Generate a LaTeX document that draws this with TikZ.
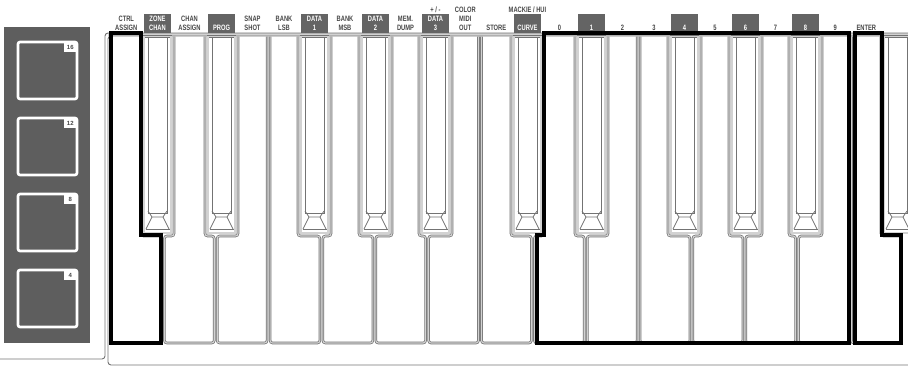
\documentclass[tikz,border=0pt]{standalone}
\usepackage{fontspec}
\setmainfont[FakeStretch=0.74]{Liberation Sans}
\newfontfamily\padfont{Liberation Sans}
\definecolor{kgray}{RGB}{115,115,115}
\definecolor{klight}{RGB}{210,210,210}
\definecolor{boxgray}{RGB}{100,100,100}
\definecolor{panelgray}{RGB}{94,94,94}
\definecolor{labtext}{RGB}{70,70,70}
\tikzset{
  keyline/.style={draw=kgray, line width=0.75, double=klight, double distance=1.1, rounded corners=2.5},
  bkline/.style={draw=kgray, line width=0.8},
  frameline/.style={draw=kgray, line width=0.9, rounded corners=3},
  grp/.style={draw=black, line width=4, line join=miter},
  lab/.style={font=\bfseries\fontsize{7.8}{8}\selectfont, text=labtext, anchor=base, inner sep=0},
  blab/.style={lab, text=white},
  lbox/.style={fill=boxgray, draw=none},
  padline/.style={draw=white, line width=2.6, rounded corners=2},
  padnum/.style={font=\padfont\bfseries\fontsize{6}{6}\selectfont, text=labtext, inner sep=0},
}
\newcommand\wkR[3]{\draw[keyline] (#1,36.5) -- (#1,343) -- (#2,343) -- (#2,236) -- (#3,236) -- (#3,36.5);}
\newcommand\wkL[3]{\draw[keyline] (#3,36.5) -- (#3,236) -- (#1,236) -- (#1,343) -- (#2,343) -- (#2,36.5);}
\newcommand\wkB[4]{\draw[keyline] (#3,36.5) -- (#3,236) -- (#1,236) -- (#1,343) -- (#2,343) -- (#2,236) -- (#4,236) -- (#4,36.5);}
\newcommand\bkey[1]{%
  \draw[keyline, fill=white, rounded corners=0] (#1,36.5) rectangle (#1+27,233);
  \draw[bkline] (#1+4,37) -- (#1+4,213) -- (#1+23,213) -- (#1+23,37);
  \draw[bkline] (#1+4,211) -- (#1+8,217) -- (#1+19,217) -- (#1+23,211);
  \draw[bkline] (#1+8,217) -- (#1+2,229) (#1+19,217) -- (#1+25,229);
  \draw[bkline] (#1+1.5,229) -- (#1+25.5,229);
}
\newcommand\lbx[1]{\fill[lbox] (#1,14) rectangle (#1+27,33);}
\newcommand\pad[2]{%
  \draw[padline] (18,#1+1) rectangle (77,#1+58);
  \fill[white] (63.5,#1+1) rectangle (77,#1+11);
  \node[padnum] (pn#2) at (70.3,#1+6.2) {#2};
}
\begin{document}
\begin{tikzpicture}[x=1pt,y=-1pt]
\useasboundingbox (0,0) rectangle (908,367);
\clip (0,0) rectangle (908,367);
% pad panel
\fill[panelgray] (4,27) rectangle (90,343);
\pad{41}{16}
\pad{117}{12}
\pad{193}{8}
\pad{269}{4}
% keyboard frame
\fill[klight] (108,33) rectangle (908,36);
\draw[frameline] (908,33) -- (105,33) -- (105,359) -- (0,359);
\draw[frameline] (908,36) -- (108,36) -- (108,365) -- (908,365);
% white keys
\wkR{111.5}{161.4}{141}
\wkB{164.4}{214.2}{174}{205}
\wkL{217.2}{267.1}{238}
\wkR{270.1}{319.9}{298}
\wkB{322.9}{372.8}{331}{359}
\wkB{375.8}{425.6}{392}{419}
\wkL{428.6}{478.5}{452}
\wkR{481.5}{531.4}{511}
\wkB{534.4}{584.2}{544}{575}
\wkL{587.2}{637.1}{608}
\wkR{640.1}{689.9}{668}
\wkB{692.9}{742.8}{701}{729}
\wkB{745.8}{795.6}{762}{789}
\wkL{798.6}{848.5}{822}
\wkR{851.5}{901.4}{881}
% black keys
\foreach \bx in {144,208,301,362,422,514,578,671,732,792,884} {\bkey{\bx}}
% label boxes
\foreach \bx in {144,208,301,362,422,514,578,671,732,792} {\lbx{\bx}}
% white-key labels
\node[lab] (t1a) at (126.3,21) {CTRL};
\node[lab] (t1b) at (126.3,30) {ASSIGN};
\node[lab] (t3a) at (189.5,21) {CHAN};
\node[lab] (t3b) at (189.5,30) {ASSIGN};
\node[lab] (t5a) at (252.5,21) {SNAP};
\node[lab] (t5b) at (252.5,30) {SHOT};
\node[lab] (t6a) at (284,21) {BANK};
\node[lab] (t6b) at (284,30) {LSB};
\node[lab] (t8a) at (345,21) {BANK};
\node[lab] (t8b) at (345,30) {MSB};
\node[lab] (t10a) at (405.5,21) {MEM.};
\node[lab] (t10b) at (405.5,30) {DUMP};
\node[lab] (t12a) at (465.3,12) {COLOR};
\node[lab] (t12b) at (465.3,21) {MIDI};
\node[lab] (t12c) at (465.3,30) {OUT};
\node[lab] (t13) at (496.3,30) {STORE};
\node[lab] (t14top) at (527.5,12) {MACKIE / HUI};
\node[lab] (t15) at (559.5,30) {0};
\node[lab] (t17) at (622.5,30) {2};
\node[lab] (t18) at (654,30) {3};
\node[lab] (t20) at (715,30) {5};
\node[lab] (t22) at (775.5,30) {7};
\node[lab] (t24) at (835.3,30) {9};
\node[lab] (t25) at (866.3,30) {ENTER};
\node[lab] (t11top) at (435.5,12) {+ / -};
% black-key labels
\node[blab] (t2a) at (157.5,21) {ZONE};
\node[blab] (t2b) at (157.5,30) {CHAN};
\node[blab] (t4) at (221.5,30) {PROG};
\node[blab] (t7a) at (314.5,21) {DATA};
\node[blab] (t7b) at (314.5,30) {1};
\node[blab] (t9a) at (375.5,21) {DATA};
\node[blab] (t9b) at (375.5,30) {2};
\node[blab] (t11a) at (435.5,21) {DATA};
\node[blab] (t11b) at (435.5,30) {3};
\node[blab] (t14) at (527.5,30) {CURVE};
\node[blab] (t16) at (591.5,30) {1};
\node[blab] (t19) at (684.5,30) {4};
\node[blab] (t21) at (745.5,30) {6};
\node[blab] (t23) at (805.5,30) {8};
% group outlines
\draw[grp] (111,33) -- (141,33) -- (141,235) -- (161,235) -- (161,343) -- (111,343) -- cycle;
\draw[grp] (544,33) -- (849,33) -- (849,343) -- (537,343) -- (537,235) -- (544,235) -- cycle;
\draw[grp] (855,33) -- (882,33) -- (882,235) -- (901,235) -- (901,343) -- (855,343) -- cycle;
\end{tikzpicture}
\end{document}
